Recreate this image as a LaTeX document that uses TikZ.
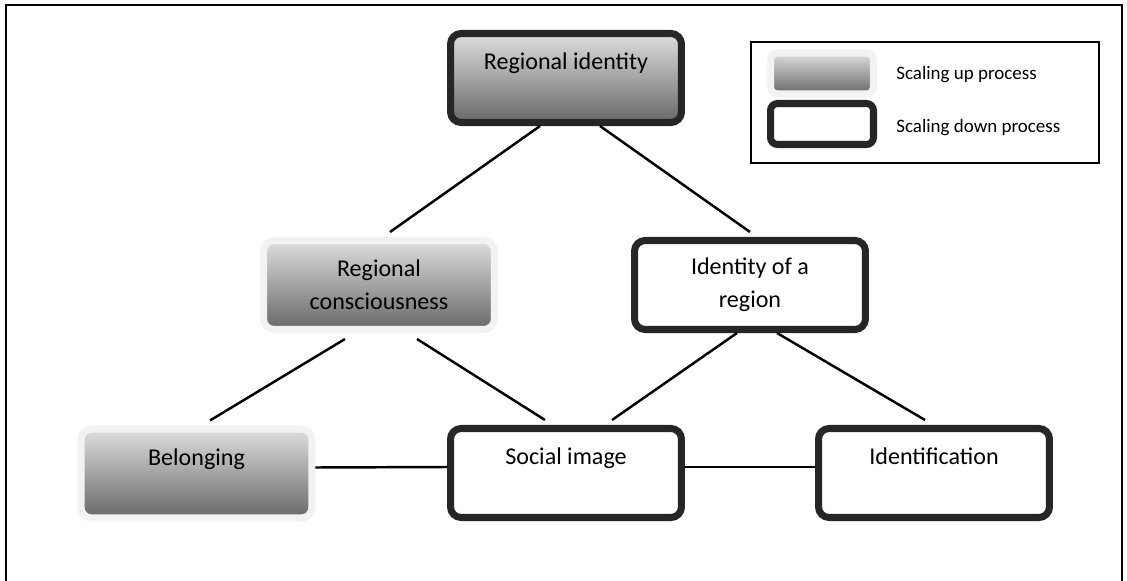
\documentclass[tikz,border=0pt]{standalone}
\usepackage{fontspec}
\setmainfont{Carlito}
\definecolor{glowgray}{RGB}{242,242,242}
\definecolor{edgegray}{RGB}{38,38,38}
\definecolor{shadetop}{RGB}{222,222,222}
\definecolor{shadebot}{RGB}{104,104,104}
\tikzset{
  regionbox/.style={rounded corners=6pt, minimum width=4.62cm, minimum height=1.78cm,
    align=center, line width=4pt, inner sep=0pt, font=\fontsize{13.7}{18.7}\selectfont},
  upnode/.style={regionbox, draw=glowgray, top color=shadetop, bottom color=shadebot},
  downnode/.style={regionbox, draw=edgegray, fill=white},
  topnode/.style={regionbox, draw=edgegray, top color=shadetop, bottom color=shadebot},
  keybox/.style={minimum width=2.06cm, minimum height=0.82cm, rounded corners=4pt},
  keytext/.style={anchor=west, inner sep=0pt, font=\fontsize{10.8}{13}\selectfont},
  link/.style={line width=1.4pt}
}
\begin{document}
\begin{tikzpicture}[x=0.02cm, y=-0.02cm]
  \useasboundingbox (0,0) rectangle (1127,581);
  % frame, open at the bottom
  \draw[line width=1.1pt] (6,581) -- (6,5) -- (1122,5) -- (1122,581);

  \node[topnode] (ident) at (566,78) {Regional identity\\\mbox{}};
  \node[upnode] (consc) at (379,285) {Regional\\consciousness};
  \node[downnode] (idreg) at (750,285) {Identity of a\\region};
  \node[upnode] (belong) at (196.5,473.5) {Belonging\\\mbox{}};
  \node[downnode] (social) at (566,473) {Social image\\\mbox{}};
  \node[downnode] (identif) at (934,473) {Identification\\\mbox{}};

  \begin{scope}[link]
    \draw ([shift={(-26,0)}]ident.south) -- ([shift={(11,-5)}]consc.north);
    \draw ([shift={(34,0)}]ident.south) -- ([shift={(0,-5)}]idreg.north);
    \draw ([shift={(-34,6)}]consc.south) -- ([shift={(13.5,-5)}]belong.north);
    \draw ([shift={(38,6)}]consc.south) -- ([shift={(-21,-5)}]social.north);
    \draw ([shift={(-13,0)}]idreg.south) -- ([shift={(46,-5)}]social.north);
    \draw ([shift={(27,0)}]idreg.south) -- ([shift={(-9,-5)}]identif.north);
    \draw ([shift={(0,-6)}]belong.east) -- ([shift={(0,-6)}]social.west);
    \draw ([shift={(0,-6)}]social.east) -- ([shift={(0,-6)}]identif.west);
  \end{scope}

  % legend
  \draw[line width=0.8pt] (751,42) rectangle (1099,163);
  \node[upnode, keybox] (keyup) at (822,73.5) {};
  \node[downnode, keybox] (keydown) at (822,124) {};
  \node[keytext] (keyuptext) at (896,75) {Scaling up process};
  \node[keytext] (keydowntext) at (896,128) {Scaling down process};
\end{tikzpicture}
\end{document}
